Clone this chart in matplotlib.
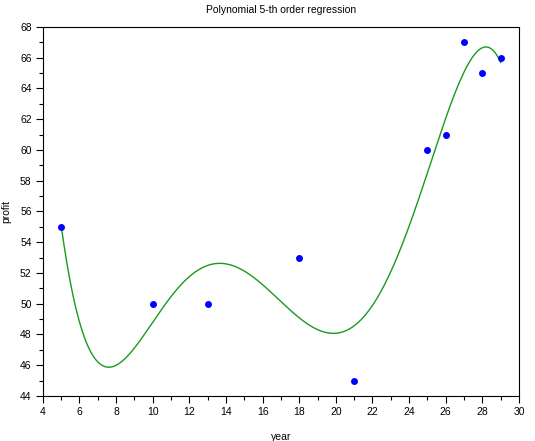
import numpy as np
import matplotlib
matplotlib.use('Agg')
import matplotlib.pyplot as plt
from matplotlib.ticker import MultipleLocator

year = [5, 10, 13, 18, 21, 25, 26, 27, 28, 29]
profit = [55, 50, 50, 53, 45, 60, 61, 67, 65, 66]

# 5-th order polynomial regression of the points
coef = np.polyfit(year, profit, 5)
xs = np.linspace(min(year), max(year), 300)
ys = np.polyval(coef, xs)

plt.rcParams['font.family'] = 'Liberation Sans'
fig = plt.figure(figsize=(5.35, 4.41), dpi=100)
ax = fig.add_axes([0.080, 0.102, 0.890, 0.837])

ax.plot(xs, ys, color='#1a9a1a', lw=1.0)
ax.plot(year, profit, 'o', color='#0000ff', markersize=5, markeredgewidth=0)

ax.set_xlim(4, 30)
ax.set_ylim(44, 68)
ax.xaxis.set_major_locator(MultipleLocator(2))
ax.xaxis.set_minor_locator(MultipleLocator(1))
ax.yaxis.set_major_locator(MultipleLocator(2))
ax.yaxis.set_minor_locator(MultipleLocator(1))
ax.tick_params(which='major', direction='out', length=5, width=0.8, labelsize=7.5, pad=3)
ax.tick_params(which='minor', direction='out', length=3, width=0.8)
for s in ax.spines.values():
    s.set_linewidth(0.8)

ax.set_title('Polynomial 5-th order regression', fontsize=7.5, pad=10)
ax.set_xlabel('year', fontsize=7.5, labelpad=11)
ax.set_ylabel('profit', fontsize=7.5, labelpad=6)

fig.savefig('out.png', dpi=100)
